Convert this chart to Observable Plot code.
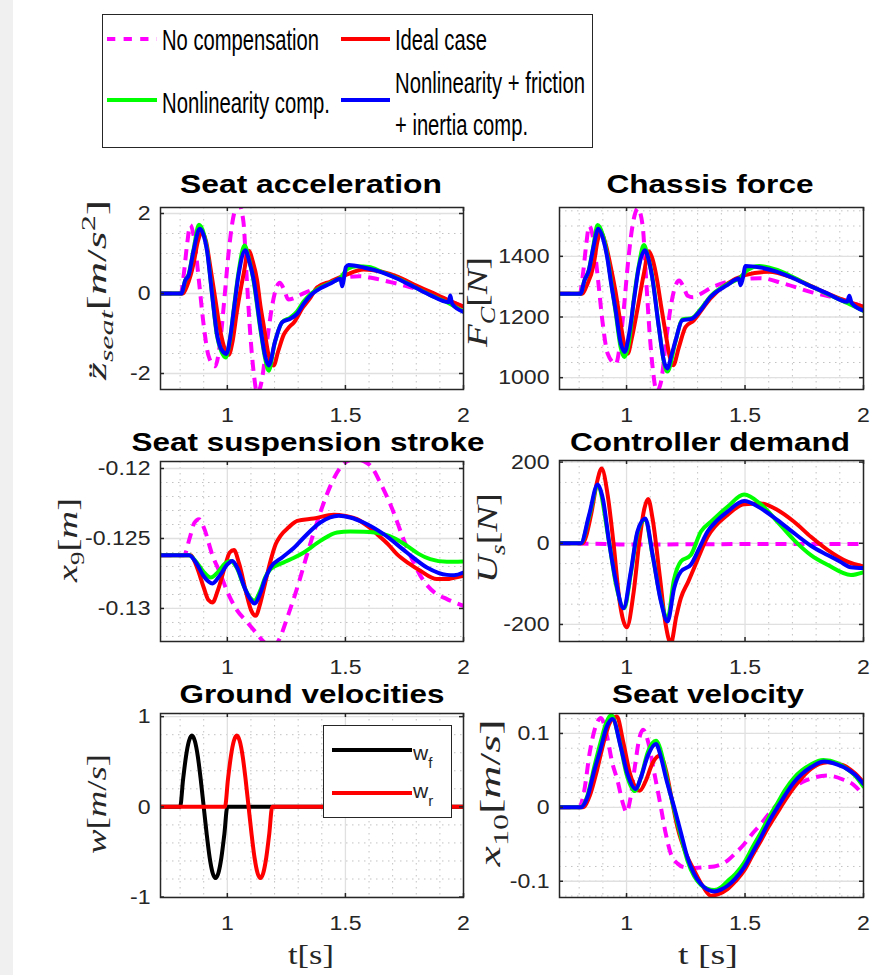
<!DOCTYPE html>
<html>
<head>
<meta charset="utf-8">
<script src="https://cdn.jsdelivr.net/npm/d3@7"></script>
<script src="https://cdn.jsdelivr.net/npm/@observablehq/plot@0.6"></script>
<style>
  html,body{margin:0;padding:0;background:#fff;}
  #fig{position:relative;width:880px;height:975px;background:#fff;overflow:hidden;}
  #strip{position:absolute;left:0;top:0;width:13px;height:975px;background:#f0f0f0;}
  #overlay{position:absolute;left:0;top:0;pointer-events:none;}
</style>
</head>
<body>
<div id="fig"><div id="strip"></div></div>
<script>
// ---------------- DATA ----------------
const xTicks = [1, 1.5, 2];
const xMinor = [0.8, 0.9, 1.1, 1.2, 1.3, 1.4, 1.6, 1.7, 1.8, 1.9];

const legendLabels = ["No compensation", "Ideal case", "Nonlinearity comp.", "Nonlinearity + friction", "+ inertia comp."];
const titles = ["Seat acceleration", "Chassis force", "Seat suspension stroke", "Controller demand", "Ground velocities", "Seat velocity"];

// Seat acceleration [m/s^2]
const accTicks = [-2, 0, 2];
const accMinor = [-2, -1.5, -1, -0.5, 0, 0.5, 1, 1.5, 2];
const accNone = [[0.717,0],[0.803,0],[0.815,0.45],[0.83,1.25],[0.843,1.71],[0.86,1.35],[0.88,0.3],[0.9,-0.8],[0.92,-1.55],[0.948,-1.82],[0.97,-1.2],[0.988,-0.1],[1.005,1.0],[1.025,1.9],[1.048,2.25],[1.068,1.8],[1.083,0.3],[1.097,-1.0],[1.112,-2.0],[1.127,-2.5],[1.145,-2.2],[1.168,-1.2],[1.19,-0.3],[1.205,0.1],[1.222,0.27],[1.24,0.1],[1.258,-0.15],[1.28,-0.12],[1.31,-0.03],[1.35,0.07],[1.4,0.2],[1.45,0.32],[1.5,0.4],[1.56,0.43],[1.62,0.38],[1.68,0.3],[1.75,0.2],[1.82,0.08],[1.88,-0.05],[1.94,-0.18],[2,-0.33]];
const accIdeal = [[0.717,0],[0.812,0],[0.83,0.2],[0.857,0.75],[0.875,1.3],[0.893,1.53],[0.91,1.3],[0.928,0.66],[0.948,-0.1],[0.97,-0.93],[0.99,-1.4],[1.006,-1.53],[1.022,-1.2],[1.041,-0.43],[1.069,0.49],[1.09,1.07],[1.108,0.8],[1.126,0.33],[1.14,-0.3],[1.155,-0.84],[1.175,-1.55],[1.196,-1.8],[1.215,-1.45],[1.239,-1.03],[1.26,-0.85],[1.281,-0.73],[1.32,-0.35],[1.352,-0.1],[1.38,0.15],[1.437,0.3],[1.5,0.46],[1.577,0.6],[1.65,0.55],[1.72,0.42],[1.8,0.2],[1.86,0.04],[1.93,-0.15],[2,-0.33]];
const accNl = [[0.717,0],[0.805,0],[0.822,0.33],[0.836,0.48],[0.857,1.1],[0.88,1.72],[0.9,1.5],[0.914,1.1],[0.935,0],[0.956,-1.05],[0.975,-1.45],[0.993,-1.6],[1.01,-1.2],[1.027,-0.4],[1.048,0.55],[1.073,1.2],[1.09,0.9],[1.11,0.35],[1.14,-0.9],[1.161,-1.65],[1.175,-1.93],[1.2,-1.25],[1.232,-0.72],[1.267,-0.6],[1.295,-0.45],[1.323,-0.2],[1.352,-0.02],[1.38,0.1],[1.437,0.27],[1.48,0.4],[1.51,0.62],[1.55,0.68],[1.6,0.66],[1.65,0.55],[1.72,0.38],[1.79,0.17],[1.86,-0.04],[1.94,-0.25],[2,-0.45]];
const accFull = [[0.717,0],[0.805,0],[0.822,0.33],[0.836,0.45],[0.857,1.07],[0.883,1.62],[0.9,1.45],[0.914,1.07],[0.935,0],[0.956,-1.01],[0.975,-1.4],[0.996,-1.51],[1.012,-1.1],[1.027,-0.43],[1.048,0.49],[1.076,1.08],[1.093,0.8],[1.112,0.33],[1.14,-0.84],[1.161,-1.59],[1.175,-1.8],[1.203,-1.18],[1.232,-0.72],[1.267,-0.63],[1.295,-0.51],[1.323,-0.26],[1.352,-0.05],[1.38,0.08],[1.437,0.25],[1.479,0.37],[1.486,0.18],[1.493,0.35],[1.502,0.66],[1.514,0.71],[1.577,0.65],[1.648,0.54],[1.718,0.375],[1.789,0.17],[1.859,-0.04],[1.937,-0.22],[1.944,-0.05],[1.952,-0.26],[2,-0.46]];

// Chassis force [N]
const forceTicks = [1000, 1200, 1400];
const forceMinor = [1000,1050,1100,1150,1200,1250,1300,1350,1400,1450,1500,1550];
const forceNone = [[0.717,1277],[0.803,1277],[0.815,1335],[0.83,1440],[0.842,1500],[0.86,1455],[0.88,1320],[0.9,1175],[0.92,1080],[0.955,1045],[0.972,1110],[0.99,1240],[1.005,1370],[1.025,1500],[1.048,1558],[1.068,1500],[1.083,1320],[1.097,1150],[1.112,1020],[1.127,955],[1.145,985],[1.168,1130],[1.19,1250],[1.205,1300],[1.222,1320],[1.24,1300],[1.258,1270],[1.28,1265],[1.31,1275],[1.354,1295],[1.42,1315],[1.495,1325],[1.565,1328],[1.664,1310],[1.776,1283],[1.917,1256],[2,1234]];
const forceIdeal = [[0.717,1277],[0.813,1277],[0.83,1300],[0.862,1376],[0.876,1445],[0.89,1480],[0.91,1445],[0.932,1370],[0.952,1290],[0.975,1178],[0.99,1110],[1.005,1079],[1.022,1130],[1.045,1222],[1.073,1343],[1.094,1417],[1.11,1390],[1.129,1321],[1.145,1240],[1.165,1145],[1.182,1070],[1.197,1041],[1.221,1101],[1.249,1167],[1.284,1189],[1.326,1233],[1.354,1261],[1.425,1310],[1.5,1338],[1.6,1349],[1.7,1330],[1.8,1294],[1.9,1261],[2,1234]];
const forceNl = [[0.717,1277],[0.805,1277],[0.822,1320],[0.841,1356],[0.857,1420],[0.878,1503],[0.9,1470],[0.918,1405],[0.935,1315],[0.954,1215],[0.975,1100],[0.99,1068],[1.01,1115],[1.031,1260],[1.052,1370],[1.073,1437],[1.09,1400],[1.108,1335],[1.136,1170],[1.157,1055],[1.172,1020],[1.207,1120],[1.235,1192],[1.277,1197],[1.312,1225],[1.354,1268],[1.425,1308],[1.48,1330],[1.51,1355],[1.56,1368],[1.636,1355],[1.706,1330],[1.776,1302],[1.847,1276],[1.931,1246],[2,1220]];
const forceFull = [[0.717,1277],[0.806,1277],[0.822,1320],[0.841,1354],[0.86,1430],[0.881,1491],[0.9,1460],[0.918,1398],[0.935,1310],[0.954,1222],[0.975,1115],[0.992,1085],[1.01,1140],[1.031,1255],[1.052,1365],[1.077,1420],[1.093,1390],[1.108,1332],[1.136,1167],[1.157,1057],[1.172,1030],[1.19,1075],[1.207,1123],[1.235,1189],[1.277,1195],[1.312,1222],[1.354,1266],[1.425,1305],[1.474,1327],[1.481,1305],[1.49,1325],[1.502,1368],[1.565,1363],[1.636,1349],[1.706,1327],[1.776,1302],[1.847,1278],[1.931,1250],[1.94,1270],[1.95,1246],[2,1221]];

// Seat suspension stroke [m]
const strokeTicks = [-0.13, -0.125, -0.12];
const strokeMinor = [-0.132,-0.131,-0.13,-0.129,-0.128,-0.127,-0.126,-0.125,-0.124,-0.123,-0.122,-0.121,-0.12];
const strokeNone = [[0.717,-0.12619],[0.817,-0.12619],[0.84,-0.1250],[0.86,-0.1239],[0.88,-0.12362],[0.9,-0.1242],[0.937,-0.1262],[0.97,-0.1275],[1.0,-0.1288],[1.04,-0.1301],[1.08,-0.1309],[1.12,-0.1317],[1.155,-0.1324],[1.19,-0.1328],[1.22,-0.1322],[1.254,-0.13064],[1.3,-0.1283],[1.338,-0.12612],[1.401,-0.12279],[1.44,-0.1211],[1.479,-0.11993],[1.52,-0.1194],[1.549,-0.11935],[1.58,-0.1195],[1.606,-0.1198],[1.65,-0.1211],[1.69,-0.12255],[1.76,-0.12564],[1.831,-0.12802],[1.88,-0.1289],[1.93,-0.12933],[2,-0.12981]];
const strokeIdeal = [[0.717,-0.12619],[0.845,-0.12619],[0.87,-0.1270],[0.9,-0.1285],[0.92,-0.1294],[0.937,-0.12957],[0.96,-0.1287],[0.99,-0.1270],[1.01,-0.1260],[1.028,-0.12583],[1.05,-0.1268],[1.08,-0.1289],[1.1,-0.1301],[1.12,-0.13052],[1.14,-0.1296],[1.16,-0.1282],[1.183,-0.1266],[1.205,-0.1254],[1.225,-0.12481],[1.26,-0.1242],[1.296,-0.12374],[1.366,-0.12357],[1.451,-0.12331],[1.5,-0.1234],[1.549,-0.12362],[1.6,-0.1242],[1.634,-0.12469],[1.68,-0.1254],[1.718,-0.12612],[1.77,-0.1268],[1.817,-0.12731],[1.887,-0.1279],[1.93,-0.1279],[1.96,-0.1278],[2,-0.12767]];
const strokeNl = [[0.717,-0.12619],[0.838,-0.12619],[0.87,-0.1267],[0.9,-0.1274],[0.93,-0.12779],[0.96,-0.1274],[0.99,-0.1268],[1.014,-0.1266],[1.04,-0.1271],[1.07,-0.1284],[1.1,-0.1293],[1.113,-0.12945],[1.14,-0.1287],[1.16,-0.1278],[1.183,-0.12719],[1.239,-0.12671],[1.28,-0.1264],[1.324,-0.126],[1.394,-0.12517],[1.465,-0.12457],[1.52,-0.1245],[1.577,-0.12452],[1.662,-0.12469],[1.71,-0.1250],[1.76,-0.12552],[1.81,-0.1261],[1.859,-0.12648],[1.93,-0.12667],[2,-0.12664]];
const strokeFull = [[0.717,-0.12619],[0.838,-0.12619],[0.87,-0.1268],[0.9,-0.1277],[0.937,-0.12821],[0.97,-0.1276],[1.0,-0.12685],[1.021,-0.1266],[1.045,-0.1272],[1.075,-0.1286],[1.1,-0.1294],[1.115,-0.12964],[1.14,-0.1289],[1.16,-0.1279],[1.183,-0.12707],[1.232,-0.12636],[1.28,-0.1257],[1.324,-0.12493],[1.394,-0.12386],[1.472,-0.12338],[1.52,-0.1235],[1.577,-0.12386],[1.662,-0.12469],[1.76,-0.126],[1.845,-0.12707],[1.93,-0.1276],[1.96,-0.12762],[2,-0.12743]];

// Controller demand [N]
const demandTicks = [-200, 0, 200];
const demandMinor = [-200,-150,-100,-50,0,50,100,150,200];
const demandNone = [[0.717,0],[0.85,-1],[1.0,-3],[1.5,-2],[2,-2]];
const demandIdeal = [[0.717,0],[0.814,0],[0.85,70],[0.875,150],[0.895,184],[0.92,120],[0.945,0],[0.97,-140],[1.001,-207],[1.03,-120],[1.055,10],[1.075,85],[1.091,109],[1.11,60],[1.14,-80],[1.165,-200],[1.187,-246],[1.21,-180],[1.229,-135],[1.26,-95],[1.285,-61],[1.342,16],[1.426,70],[1.496,96],[1.567,98],[1.637,82],[1.707,53],[1.778,16],[1.848,-16],[1.932,-45],[2,-57]];
const demandNl = [[0.717,0],[0.807,0],[0.842,65],[0.878,140],[0.927,0],[0.955,-100],[0.99,-160],[1.018,-75],[1.046,25],[1.078,58],[1.11,-30],[1.145,-140],[1.173,-185],[1.2,-90],[1.229,-45],[1.271,-29],[1.314,29],[1.356,53],[1.426,90],[1.496,120],[1.567,96],[1.637,53],[1.707,8],[1.778,-29],[1.848,-53],[1.947,-78],[2,-71]];
const demandFull = [[0.717,0],[0.807,0],[0.842,70],[0.878,145],[0.9,110],[0.927,0],[0.955,-94],[0.987,-160],[1.018,-70],[1.046,29],[1.079,61],[1.11,-29],[1.145,-143],[1.173,-193],[1.201,-110],[1.229,-70],[1.271,-53],[1.307,-12],[1.342,29],[1.38,55],[1.426,78],[1.496,104],[1.567,86],[1.637,57],[1.707,25],[1.778,-6],[1.848,-29],[1.9,-45],[1.947,-59],[2,-61]];

// Ground velocities [m/s]
const groundTicks = [-1, 0, 1];
const groundMinor = [-0.8,-0.6,-0.4,-0.2,0,0.2,0.4,0.6,0.8];
const wf = [[0.717,0],[0.8,0],[0.8125,0.3],[0.825,0.56],[0.8375,0.73],[0.85,0.79],[0.8625,0.73],[0.875,0.56],[0.8875,0.3],[0.9,0],[0.9125,-0.3],[0.925,-0.56],[0.9375,-0.73],[0.95,-0.79],[0.9625,-0.73],[0.975,-0.56],[0.9875,-0.3],[1.0,0],[2,0]];
const wr = [[0.717,0],[0.99,0],[1.0025,0.3],[1.015,0.56],[1.0275,0.73],[1.04,0.79],[1.0525,0.73],[1.065,0.56],[1.0775,0.3],[1.09,0],[1.1025,-0.3],[1.115,-0.56],[1.1275,-0.73],[1.14,-0.79],[1.1525,-0.73],[1.165,-0.56],[1.1775,-0.3],[1.19,0],[2,0]];

// Seat velocity [m/s]
const velTicks = [-0.1, 0, 0.1];
const velMinor = [-0.12,-0.1,-0.08,-0.06,-0.04,-0.02,0,0.02,0.04,0.06,0.08,0.1,0.12];
const velNone = [[0.717,0],[0.8,0],[0.82,0.02],[0.845,0.075],[0.87,0.11],[0.892,0.121],[0.915,0.1],[0.94,0.06],[0.962,0.036],[0.985,0.005],[1.0,-0.0068],[1.015,0.01],[1.035,0.055],[1.055,0.095],[1.07,0.105],[1.09,0.09],[1.115,0.05],[1.145,0],[1.165,-0.035],[1.187,-0.063],[1.215,-0.076],[1.243,-0.081],[1.29,-0.082],[1.33,-0.081],[1.37,-0.08],[1.426,-0.072],[1.46,-0.062],[1.496,-0.05],[1.53,-0.036],[1.567,-0.0226],[1.6,-0.009],[1.637,0.0045],[1.67,0.016],[1.707,0.027],[1.74,0.034],[1.778,0.039],[1.848,0.043],[1.918,0.037],[1.96,0.03],[2,0.016]];
const velIdeal = [[0.717,0],[0.815,0],[0.845,0.016],[0.875,0.05],[0.905,0.09],[0.93,0.115],[0.959,0.1228],[0.985,0.09],[1.015,0.045],[1.04,0.026],[1.056,0.0226],[1.08,0.035],[1.11,0.06],[1.142,0.07],[1.17,0.045],[1.19,0.012],[1.215,-0.027],[1.25,-0.062],[1.286,-0.0858],[1.32,-0.106],[1.356,-0.1196],[1.39,-0.117],[1.426,-0.1106],[1.46,-0.1],[1.496,-0.0858],[1.53,-0.066],[1.567,-0.0451],[1.6,-0.026],[1.637,-0.0068],[1.67,0.01],[1.707,0.0271],[1.74,0.04],[1.778,0.0519],[1.848,0.061],[1.918,0.0564],[1.96,0.047],[2,0.0339]];
const velNl = [[0.717,0],[0.805,0],[0.835,0.016],[0.864,0.055],[0.892,0.09],[0.915,0.115],[0.935,0.125],[0.97,0.09],[1.0,0.045],[1.035,0.022],[1.06,0.04],[1.09,0.075],[1.124,0.09],[1.15,0.07],[1.166,0.045],[1.2,-0.002],[1.23,-0.04],[1.257,-0.072],[1.285,-0.093],[1.314,-0.105],[1.34,-0.11],[1.37,-0.112],[1.4,-0.108],[1.426,-0.1],[1.46,-0.09],[1.496,-0.075],[1.53,-0.055],[1.567,-0.034],[1.6,-0.014],[1.637,0.006],[1.67,0.024],[1.707,0.04],[1.74,0.05],[1.778,0.058],[1.83,0.064],[1.89,0.06],[1.93,0.052],[1.961,0.044],[2,0.028]];
const velFull = [[0.717,0],[0.807,0],[0.835,0.014],[0.864,0.05],[0.892,0.081],[0.915,0.108],[0.941,0.1196],[0.976,0.081],[1.004,0.045],[1.039,0.0248],[1.06,0.04],[1.09,0.07],[1.124,0.0858],[1.145,0.068],[1.166,0.04],[1.201,0],[1.23,-0.035],[1.257,-0.0677],[1.285,-0.09],[1.314,-0.1038],[1.34,-0.111],[1.37,-0.1138],[1.4,-0.111],[1.426,-0.1061],[1.46,-0.096],[1.496,-0.0813],[1.53,-0.062],[1.567,-0.0406],[1.6,-0.02],[1.637,0],[1.67,0.017],[1.707,0.0339],[1.74,0.045],[1.778,0.0542],[1.834,0.0619],[1.89,0.0578],[1.93,0.052],[1.961,0.0451],[2,0.0316]];

// ---------------- DRAWING ----------------
const SANS = "'Liberation Sans', Arial, Helvetica, sans-serif";
const SERIF = "'Liberation Serif', 'Times New Roman', serif";
const AXC = "#262626";
const X_DOMAIN = [0.717, 2];
const fig = document.getElementById("fig");

const NONE = {color: "#ff00ff", dash: "11,7"};
const IDEAL = {color: "#ff0000"};
const NL = {color: "#00ff00"};
const FULL = {color: "#0000ff"};

function panel(p) {
  const mL = 80, mR = 8, mT = 8, mB = 45;
  const w = p.fw + mL + mR, h = p.fh + mT + mB;
  const lines = p.series.map(s => Plot.line(s.data, {
    x: d => d[0], y: d => d[1], stroke: s.color, strokeWidth: 4,
    strokeDasharray: s.dash, curve: "monotone-x", clip: true,
    strokeLinejoin: "round", strokeLinecap: s.dash ? "butt" : "round"
  }));
  const chart = Plot.plot({
    width: w, height: h, marginLeft: mL, marginRight: mR, marginTop: mT, marginBottom: mB,
    x: {domain: X_DOMAIN}, y: {domain: p.yDomain},
    style: {fontFamily: SANS, fontSize: "21px", background: "transparent", overflow: "visible", color: AXC},
    marks: [
      Plot.ruleX(xMinor, {stroke: "#c2c2c2", strokeWidth: 1, strokeDasharray: "1.5,4.5"}),
      Plot.ruleY(p.yMinor, {stroke: "#c2c2c2", strokeWidth: 1, strokeDasharray: "1.5,4.5"}),
      Plot.ruleX(xTicks, {stroke: "#e0e0e0", strokeWidth: 1.3}),
      Plot.ruleY(p.yTicks, {stroke: "#e0e0e0", strokeWidth: 1.3}),
      ...lines,
      Plot.tickX(xTicks, {x: d => d, stroke: AXC, strokeWidth: 1.5, insetTop: p.fh - 4}),
      Plot.tickX(xTicks, {x: d => d, stroke: AXC, strokeWidth: 1.5, insetBottom: p.fh - 4}),
      Plot.tickY(p.yTicks, {y: d => d, stroke: AXC, strokeWidth: 1.5, insetRight: p.fw - 4}),
      Plot.tickY(p.yTicks, {y: d => d, stroke: AXC, strokeWidth: 1.5, insetLeft: p.fw - 4}),
      Plot.frame({stroke: AXC, strokeWidth: 1.5}),
      Plot.axisX(xTicks, {tickSize: 0, tickPadding: 18, tickFormat: d => String(d), label: null, color: AXC, fontSize: 21}),
      Plot.axisY(p.yTicks, {tickSize: 0, tickPadding: 10, tickFormat: d => String(d), label: null, color: AXC, fontSize: 21})
    ]
  });
  // widen tick labels slightly (MATLAB-like proportions)
  d3.select(chart).selectAll("text").each(function() {
    const tr = this.getAttribute("transform");
    if (tr) this.setAttribute("transform", tr + " scale(1.1,1)");
    else {
      const x = this.getAttribute("x") || 0, y = this.getAttribute("y") || 0;
      this.removeAttribute("x"); this.removeAttribute("y");
      this.setAttribute("transform", `translate(${x},${y}) scale(1.1,1)`);
    }
  });
  chart.style.position = "absolute";
  chart.style.left = (p.fx - mL) + "px";
  chart.style.top = (p.fy - mT) + "px";
  fig.appendChild(chart);
}

panel({fx: 160, fy: 207, fw: 303, fh: 182, yDomain: [-2.4, 2.15], yTicks: accTicks, yMinor: accMinor,
  series: [{...NONE, data: accNone}, {...IDEAL, data: accIdeal}, {...NL, data: accNl}, {...FULL, data: accFull}]});
panel({fx: 559, fy: 207, fw: 304, fh: 182, yDomain: [961, 1561], yTicks: forceTicks, yMinor: forceMinor,
  series: [{...NONE, data: forceNone}, {...IDEAL, data: forceIdeal}, {...NL, data: forceNl}, {...FULL, data: forceFull}]});
panel({fx: 160, fy: 461, fw: 303, fh: 180, yDomain: [-0.13236, -0.1195], yTicks: strokeTicks, yMinor: strokeMinor,
  series: [{...NONE, data: strokeNone}, {...IDEAL, data: strokeIdeal}, {...NL, data: strokeNl}, {...FULL, data: strokeFull}]});
panel({fx: 559, fy: 460, fw: 304, fh: 181, yDomain: [-242, 204], yTicks: demandTicks, yMinor: demandMinor,
  series: [{...NONE, data: demandNone}, {...IDEAL, data: demandIdeal}, {...NL, data: demandNl}, {...FULL, data: demandFull}]});
panel({fx: 160, fy: 713, fw: 303, fh: 184, yDomain: [-1.005, 1.035], yTicks: groundTicks, yMinor: groundMinor,
  series: [{color: "#000000", data: wf}, {color: "#ff0000", data: wr}]});
panel({fx: 559, fy: 713, fw: 304, fh: 184, yDomain: [-0.122, 0.127], yTicks: velTicks, yMinor: velMinor,
  series: [{...NONE, data: velNone}, {...IDEAL, data: velIdeal}, {...NL, data: velNl}, {...FULL, data: velFull}]});

// ---------------- OVERLAY: titles, labels, legends ----------------
const svg = d3.select(fig).append("svg").attr("id", "overlay").attr("width", 880).attr("height", 975);

function plainText(o) {
  const t = svg.append("text")
    .attr("x", o.x).attr("y", o.y)
    .attr("font-family", o.family || SANS)
    .attr("font-size", o.size)
    .attr("font-weight", o.weight || "normal")
    .attr("text-anchor", o.anchor || "start")
    .attr("fill", o.fill || "#000")
    .text(o.s);
  if (o.len) t.attr("textLength", o.len).attr("lengthAdjust", "spacingAndGlyphs");
  return t;
}
function mathText(o) {
  const t = svg.append("text")
    .attr("transform", `translate(${o.x},${o.y})` + (o.rotate ? ` rotate(${o.rotate})` : ""))
    .attr("font-family", SERIF).attr("font-size", o.size)
    .attr("text-anchor", o.anchor || "middle").attr("fill", AXC);
  if (o.len) t.attr("textLength", o.len).attr("lengthAdjust", "spacingAndGlyphs");
  let shift = 0;
  for (const p of o.parts) {
    const ts = t.append("tspan").text(p.t).attr("font-style", p.it ? "italic" : "normal");
    const target = p.sub ? o.size * 0.25 : p.sup ? -o.size * 0.4 : 0;
    if (target !== shift) { ts.attr("dy", target - shift); shift = target; }
    if (p.sub || p.sup) ts.attr("font-size", o.size * 0.7);
  }
  return t;
}

// Titles
const titlePos = [[311, 193, 262], [710, 193, 207], [308, 451, 353], [710, 451, 280], [312, 703, 265], [708, 703, 192]];
titles.forEach((s, i) => plainText({x: titlePos[i][0], y: titlePos[i][1], s, size: 25, weight: "bold", anchor: "middle", len: titlePos[i][2]}));

// Y labels
mathText({x: 106, y: 290, rotate: -90, size: 28, len: 180, parts: [
  {t: "z\u0308", it: true}, {t: "seat", it: true, sub: true}, {t: "["}, {t: "m", it: true}, {t: "/"}, {t: "s", it: true}, {t: "2", sup: true}, {t: "]"}]});
mathText({x: 487, y: 302, rotate: -90, size: 30, len: 90, parts: [
  {t: "F", it: true}, {t: "C", it: true, sub: true}, {t: "["}, {t: "N", it: true}, {t: "]"}]});
mathText({x: 77, y: 540, rotate: -90, size: 28, len: 84, parts: [
  {t: "x", it: true}, {t: "9", sub: true}, {t: "["}, {t: "m", it: true}, {t: "]"}]});
mathText({x: 497, y: 538, rotate: -90, size: 30, len: 90, parts: [
  {t: "U", it: true}, {t: "s", it: true, sub: true}, {t: "["}, {t: "N", it: true}, {t: "]"}]});
mathText({x: 106, y: 804, rotate: -90, size: 28, len: 100, parts: [
  {t: "w", it: true}, {t: "["}, {t: "m", it: true}, {t: "/"}, {t: "s", it: true}, {t: "]"}]});
mathText({x: 500, y: 793, rotate: -90, size: 30, len: 147, parts: [
  {t: "x", it: true}, {t: "10", sub: true}, {t: "["}, {t: "m", it: true}, {t: "/"}, {t: "s", it: true}, {t: "]"}]});

// X labels
mathText({x: 311, y: 964, size: 27, len: 46, parts: [{t: "t"}, {t: "["}, {t: "s"}, {t: "]"}]});
mathText({x: 708, y: 964, size: 27, len: 60, parts: [{t: "t"}, {t: "\u00a0["}, {t: "s"}, {t: "]"}]});

// Main legend
svg.append("rect").attr("x", 102.5).attr("y", 14.5).attr("width", 490).attr("height", 133)
  .attr("fill", "#fff").attr("stroke", AXC).attr("stroke-width", 1);
const sw = [
  {x1: 107, x2: 157, y: 39, c: "#ff00ff", dash: "8.3,8.3"},
  {x1: 341, x2: 390, y: 39, c: "#ff0000"},
  {x1: 107, x2: 157, y: 100, c: "#00ff00"},
  {x1: 341, x2: 390, y: 100, c: "#0000ff"}
];
sw.forEach(s => svg.append("line").attr("x1", s.x1).attr("x2", s.x2).attr("y1", s.y).attr("y2", s.y)
  .attr("stroke", s.c).attr("stroke-width", 4).attr("stroke-dasharray", s.dash || null));
const legPos = [[162, 50, 157], [395, 50, 92], [162, 113, 168], [395, 93, 190], [395, 135, 133]];
legendLabels.forEach((s, i) => plainText({x: legPos[i][0], y: legPos[i][1], s, size: 29, len: legPos[i][2]}));

// Ground-velocity legend
svg.append("rect").attr("x", 323.5).attr("y", 725.5).attr("width", 128).attr("height", 92)
  .attr("fill", "#fff").attr("stroke", AXC).attr("stroke-width", 1);
svg.append("line").attr("x1", 332).attr("x2", 412).attr("y1", 750).attr("y2", 750).attr("stroke", "#000").attr("stroke-width", 4);
svg.append("line").attr("x1", 332).attr("x2", 412).attr("y1", 793).attr("y2", 793).attr("stroke", "#ff0000").attr("stroke-width", 4);
[["f", 760], ["r", 798]].forEach(([sub, y]) => {
  const t = svg.append("text").attr("x", 413).attr("y", y).attr("font-family", SANS).attr("font-size", 21).attr("fill", AXC);
  t.append("tspan").text("w");
  t.append("tspan").text(sub).attr("font-size", 15).attr("dy", 8);
});
</script>
</body>
</html>
